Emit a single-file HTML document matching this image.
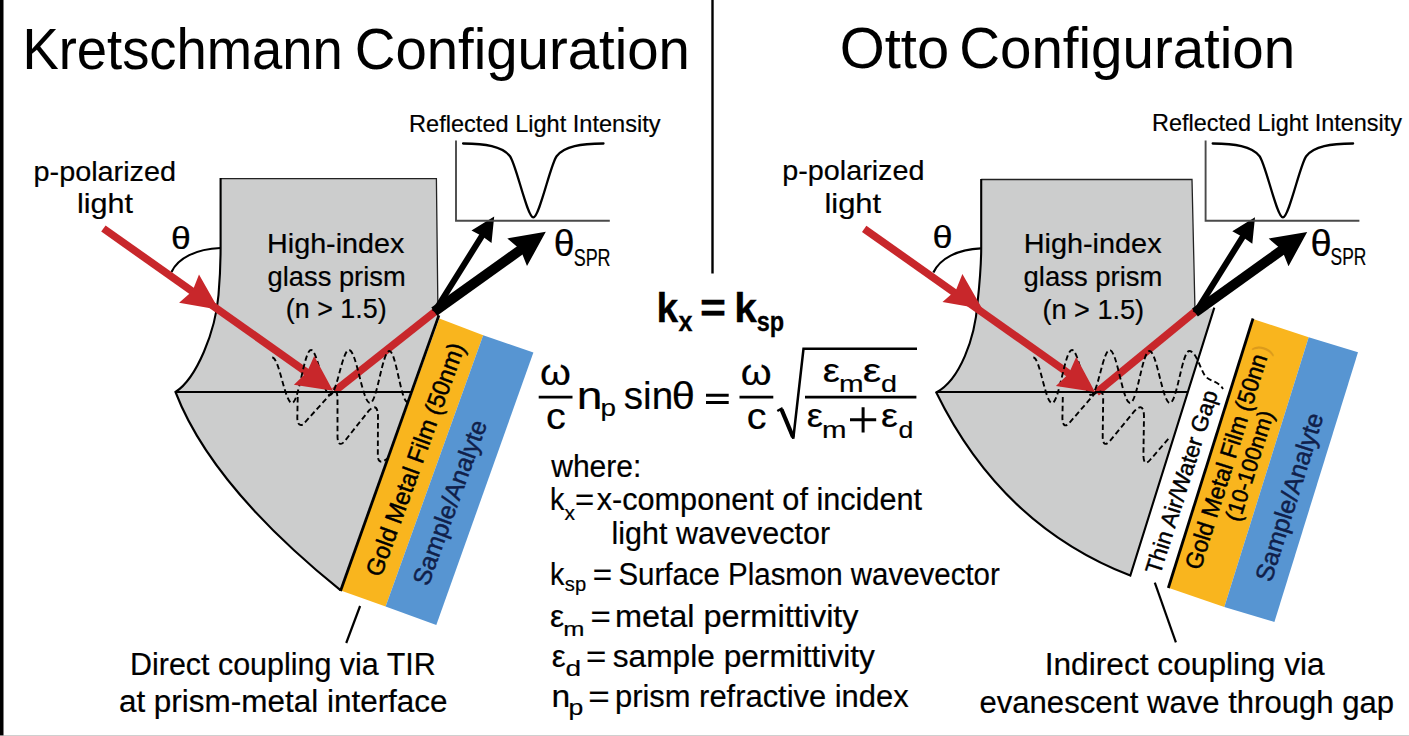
<!DOCTYPE html>
<html><head><meta charset="utf-8"><title>SPR configurations</title>
<style>html,body{margin:0;padding:0;background:#fff}svg{display:block}text{font-family:"Liberation Sans",sans-serif}</style>
</head><body>
<svg width="1409" height="736" viewBox="0 0 1409 736">
<rect width="1409" height="736" fill="#fff"/>
<rect x="0" y="0" width="3.5" height="736" fill="#000"/>
<rect x="0" y="735.3" width="1409" height="0.7" fill="#bbb"/>
<line x1="712.5" y1="0" x2="712.5" y2="273.5" stroke="#000" stroke-width="2.4"/>
<text x="22.4" y="68.5" font-size="57" font-weight="normal" fill="#000" stroke="#000" stroke-width="0.05" text-anchor="start" textLength="320.4" lengthAdjust="spacingAndGlyphs">Kretschmann</text>
<text x="354.7" y="68.6" font-size="57" font-weight="normal" fill="#000" stroke="#000" stroke-width="0.05" text-anchor="start" textLength="335.2" lengthAdjust="spacingAndGlyphs">Configuration</text>
<text x="839.7" y="68.2" font-size="57" font-weight="normal" fill="#000" stroke="#000" stroke-width="0.05" text-anchor="start" textLength="109.4" lengthAdjust="spacingAndGlyphs">Otto</text>
<text x="959.2" y="68.2" font-size="57" font-weight="normal" fill="#000" stroke="#000" stroke-width="0.05" text-anchor="start" textLength="336.0" lengthAdjust="spacingAndGlyphs">Configuration</text>
<path d="M220.6,178.6 L436.4,178.6 L438,316 L439,318 L340.7,590.4 Q211.5,486 175.5,392 C197,378 215.5,331 218.5,295 C220.2,275 220.6,260 220.6,248 Z" fill="#cccdcd" stroke="none"/>
<path d="M220.6,178.6 L436.4,178.6 L438,318" fill="none" stroke="#222" stroke-width="1.3"/>
<path d="M340.7,590.4 Q211.5,486 175.5,392 C197,378 215.5,331 218.5,295 C220.2,275 220.6,260 220.6,248 L220.6,178" fill="none" stroke="#000" stroke-width="2.1" stroke-linejoin="miter"/>
<polygon points="439.4,318.4 483.2,335.2 385.6,606.6 340.7,590.4" fill="#f9b51e"/>
<polygon points="483.2,335.2 533.4,352.6 436.3,625 385.6,606.6" fill="#5795d2"/>
<line x1="438.9" y1="315.4" x2="340.5" y2="591" stroke="#000" stroke-width="2.8"/>
<path d="M220.5,248 C196,249 178,258 171.5,272" fill="none" stroke="#000" stroke-width="2.2"/>
<line x1="103.4" y1="228.5" x2="316.7" y2="379.3" stroke="#c8272b" stroke-width="7.6"/>
<line x1="334.5" y1="391.3" x2="436.5" y2="310.5" stroke="#c8272b" stroke-width="7.6"/>
<path d="M272.2,357.5 C279.4,357.5 284.8,403.0 292.0,403.0 C298.9,403.0 304.1,350.0 311.0,350.0 C317.9,350.0 323.1,395.0 330.0,395.0 C336.9,395.0 342.1,350.0 349.0,350.0 C356.6,350.0 362.4,403.0 370.0,403.0 C377.1,403.0 382.3,351.0 389.4,351.0 C396.0,351.0 400.9,402.0 407.5,402.0" fill="none" stroke="#000" stroke-width="1.9" stroke-dasharray="5.5 3.2"/>
<path d="M297.7,397 L297.3,418 Q297.6,427 303,424.5 L331,393.5 Q337.3,388 337.5,398 L337.5,437 Q338,447.5 344,442 L369,410.5 Q377.5,402 378,416 L377.8,456 Q378.5,466 387.4,458.4" fill="none" stroke="#000" stroke-width="1.9" stroke-dasharray="5.5 3.2"/>
<line x1="175.5" y1="392" x2="412" y2="392" stroke="#000" stroke-width="2.1"/>
<polygon points="219.0,309.8 179.1,302.7 192.5,291.0 199.0,274.6" fill="#c8272b"/>
<polygon points="333.0,390.8 293.9,384.7 306.9,372.3 314.2,355.9" fill="#c8272b"/>
<line x1="434.5" y1="311.8" x2="486.2" y2="229.1" stroke="#000" stroke-width="6.1"/>
<polygon points="494.2,216.4 491.5,243.0 481.9,236.1 471.5,230.5" fill="#000"/>
<line x1="434.2" y1="311.6" x2="533.6" y2="240.5" stroke="#000" stroke-width="9.9"/>
<polygon points="545.8,231.8 527.0,266.1 520.6,249.8 507.3,238.4" fill="#000"/>
<path d="M456.0,140.4 V220.8 H609.8" fill="none" stroke="#4a4a4a" stroke-width="1.9"/>
<path d="M463.1,143.5 C485.0,143.8 502.0,146 510.0,156.2 C516.0,163.9 527.3,217.4 533.3,217.4 C539.3,217.4 550.6,163.9 556.6,156.2 C564.6,146 581.0,143.8 603.5,143.5" fill="none" stroke="#000" stroke-width="2.3" stroke-linecap="round"/>
<path d="M981.2,179.5 L1192,179.5 L1194.5,309.4 L1214,308.6 L1130.3,575.4 Q1001.5,525.7 936.3,392.5 C960,380 975,338 977.5,303 C980,280 981.2,262 981.2,248 Z" fill="#cccdcd" stroke="none"/>
<path d="M981.2,179.5 L1192,179.5 L1195,311" fill="none" stroke="#222" stroke-width="1.3"/>
<path d="M1214.3,307.6 L1130.3,575.6 Q1001.5,525.7 936.3,392.5 C960,380 975,338 977.5,303 C980,280 981.2,262 981.2,248 L981.2,179" fill="none" stroke="#000" stroke-width="2.1" stroke-linejoin="miter"/>
<polygon points="1253,319 1308.7,337.3 1224.3,607.1 1168.3,587.8" fill="#f9b51e"/>
<polygon points="1308.7,337.3 1358,352.3 1274.4,621.9 1224.3,607.1" fill="#5795d2"/>
<line x1="1253" y1="318.5" x2="1168.3" y2="588" stroke="#000" stroke-width="2.8"/>
<path d="M981,248.4 C957,249.5 940,258.5 933.4,272.5" fill="none" stroke="#000" stroke-width="2.2"/>
<line x1="864.2" y1="228.8" x2="1078.7" y2="380.5" stroke="#c8272b" stroke-width="7.6"/>
<line x1="1096.5" y1="392.5" x2="1197" y2="310" stroke="#c8272b" stroke-width="7.6"/>
<path d="M1033.3,357.5 C1040.1,357.5 1045.2,403.0 1052.0,403.0 C1059.3,403.0 1064.7,350.0 1072.0,350.0 C1078.9,350.0 1084.1,395.0 1091.0,395.0 C1097.8,395.0 1102.9,350.0 1109.7,350.0 C1117.1,350.0 1122.7,403.0 1130.1,403.0 C1137.2,403.0 1142.4,351.0 1149.5,351.0 C1156.9,351.0 1162.5,403.0 1169.9,403.0 C1176.9,403.0 1182.2,351.0 1189.2,351.0 C1196,351 1200,368 1204.5,375 S1218,380 1223,389" fill="none" stroke="#000" stroke-width="1.9" stroke-dasharray="5.5 3.2"/>
<path d="M1062.8,397 L1062.4,418 Q1062.6,428 1068,424.5 L1094,394.5 Q1103,387 1103.2,398 L1102.7,437 Q1103,447.5 1109,442 L1135,410.5 Q1143.5,402 1144,416 L1143.4,456 Q1144,467 1150,460 L1170,437" fill="none" stroke="#000" stroke-width="1.9" stroke-dasharray="5.5 3.2"/>
<line x1="936.3" y1="392" x2="1187.5" y2="392" stroke="#000" stroke-width="2.1"/>
<polygon points="982.4,309.1 942.5,302.0 955.9,290.3 962.4,273.9" fill="#c8272b"/>
<polygon points="1095.0,392.0 1055.9,385.9 1068.9,373.5 1076.2,357.1" fill="#c8272b"/>
<line x1="1195.3" y1="312.8" x2="1247.1" y2="229.9" stroke="#000" stroke-width="6.1"/>
<polygon points="1255.0,217.2 1252.3,243.8 1242.7,236.9 1232.3,231.3" fill="#000"/>
<line x1="1195.0" y1="312.6" x2="1295.0" y2="240.7" stroke="#000" stroke-width="9.9"/>
<polygon points="1307.2,231.9 1288.5,266.3 1282.0,250.0 1268.7,238.6" fill="#000"/>
<path d="M1205.6,140.4 V220.8 H1359.4" fill="none" stroke="#4a4a4a" stroke-width="1.9"/>
<path d="M1212.7,143.5 C1234.6,143.8 1251.6,146 1259.6,156.2 C1265.6,163.9 1276.9,217.4 1282.9,217.4 C1288.9,217.4 1300.2,163.9 1306.2,156.2 C1314.2,146 1330.6,143.8 1353.1,143.5" fill="none" stroke="#000" stroke-width="2.3" stroke-linecap="round"/>
<text x="409.1" y="131.8" font-size="24" font-weight="normal" fill="#000" stroke="#000" stroke-width="0.2" text-anchor="start" textLength="251.4" lengthAdjust="spacingAndGlyphs">Reflected Light Intensity</text>
<text x="33.5" y="181.0" font-size="28.5" font-weight="normal" fill="#000" stroke="#000" stroke-width="0.2" text-anchor="start" textLength="142.6" lengthAdjust="spacingAndGlyphs">p-polarized</text>
<text x="76.9" y="213.3" font-size="28.5" font-weight="normal" fill="#000" stroke="#000" stroke-width="0.2" text-anchor="start" textLength="56.1" lengthAdjust="spacingAndGlyphs">light</text>
<text x="171.0" y="248.8" font-size="31.5" font-weight="normal" fill="#000" stroke="#000" stroke-width="0.2" text-anchor="start" textLength="19.8" lengthAdjust="spacingAndGlyphs">θ</text>
<text x="267.1" y="252.9" font-size="28.3" font-weight="normal" fill="#000" stroke="#000" stroke-width="0.2" text-anchor="start" textLength="137.2" lengthAdjust="spacingAndGlyphs">High-index</text>
<text x="267.6" y="285.5" font-size="28.3" font-weight="normal" fill="#000" stroke="#000" stroke-width="0.2" text-anchor="start" textLength="138.1" lengthAdjust="spacingAndGlyphs">glass prism</text>
<text x="285.8" y="317.9" font-size="28.3" font-weight="normal" fill="#000" stroke="#000" stroke-width="0.2" text-anchor="start" textLength="100.9" lengthAdjust="spacingAndGlyphs">(n &gt; 1.5)</text>
<text x="553.8" y="255.8" font-size="36.5" font-weight="normal" fill="#000" stroke="#000" stroke-width="0.2" text-anchor="start" textLength="20.8" lengthAdjust="spacingAndGlyphs">θ</text>
<text x="573.7" y="265.6" font-size="24" font-weight="normal" fill="#000" stroke="#000" stroke-width="0.2" text-anchor="start" textLength="36.9" lengthAdjust="spacingAndGlyphs">SPR</text>
<text x="130.0" y="674.7" font-size="31" font-weight="normal" fill="#000" stroke="#000" stroke-width="0.2" text-anchor="start" textLength="305.7" lengthAdjust="spacingAndGlyphs">Direct coupling via TIR</text>
<text x="118.9" y="711.9" font-size="31" font-weight="normal" fill="#000" stroke="#000" stroke-width="0.2" text-anchor="start" textLength="328.7" lengthAdjust="spacingAndGlyphs">at prism-metal interface</text>
<line x1="360.1" y1="606" x2="346.2" y2="643" stroke="#000" stroke-width="2.2"/>
<g transform="translate(381.5,577) rotate(-70.05)"><text x="-1.2" y="0.0" font-size="24.5" font-weight="normal" fill="#000" stroke="#000" stroke-width="0.45" text-anchor="start" textLength="246.4" lengthAdjust="spacingAndGlyphs">Gold Metal Film (50nm)</text></g>
<g transform="translate(428.5,586) rotate(-70.05)"><text x="-1.0" y="0.0" font-size="25" font-weight="normal" fill="#10204a" stroke="#10204a" stroke-width="0.45" text-anchor="start" textLength="173.6" lengthAdjust="spacingAndGlyphs">Sample/Analyte</text></g>
<text x="1152.1" y="131.3" font-size="24" font-weight="normal" fill="#000" stroke="#000" stroke-width="0.2" text-anchor="start" textLength="249.8" lengthAdjust="spacingAndGlyphs">Reflected Light Intensity</text>
<text x="782.2" y="180.4" font-size="28.5" font-weight="normal" fill="#000" stroke="#000" stroke-width="0.2" text-anchor="start" textLength="142.3" lengthAdjust="spacingAndGlyphs">p-polarized</text>
<text x="824.4" y="213.4" font-size="28.5" font-weight="normal" fill="#000" stroke="#000" stroke-width="0.2" text-anchor="start" textLength="56.8" lengthAdjust="spacingAndGlyphs">light</text>
<text x="932.6" y="247.8" font-size="31.5" font-weight="normal" fill="#000" stroke="#000" stroke-width="0.2" text-anchor="start" textLength="20.1" lengthAdjust="spacingAndGlyphs">θ</text>
<text x="1023.7" y="253.2" font-size="28.3" font-weight="normal" fill="#000" stroke="#000" stroke-width="0.2" text-anchor="start" textLength="137.9" lengthAdjust="spacingAndGlyphs">High-index</text>
<text x="1023.6" y="285.5" font-size="28.3" font-weight="normal" fill="#000" stroke="#000" stroke-width="0.2" text-anchor="start" textLength="138.7" lengthAdjust="spacingAndGlyphs">glass prism</text>
<text x="1042.4" y="318.5" font-size="28.3" font-weight="normal" fill="#000" stroke="#000" stroke-width="0.2" text-anchor="start" textLength="101.7" lengthAdjust="spacingAndGlyphs">(n &gt; 1.5)</text>
<text x="1310.6" y="256.2" font-size="36.5" font-weight="normal" fill="#000" stroke="#000" stroke-width="0.2" text-anchor="start" textLength="21.2" lengthAdjust="spacingAndGlyphs">θ</text>
<text x="1330.6" y="265.2" font-size="24" font-weight="normal" fill="#000" stroke="#000" stroke-width="0.2" text-anchor="start" textLength="35.7" lengthAdjust="spacingAndGlyphs">SPR</text>
<text x="1044.7" y="674.6" font-size="31" font-weight="normal" fill="#000" stroke="#000" stroke-width="0.2" text-anchor="start" textLength="280.0" lengthAdjust="spacingAndGlyphs">Indirect coupling via</text>
<text x="979.5" y="712.9" font-size="31" font-weight="normal" fill="#000" stroke="#000" stroke-width="0.2" text-anchor="start" textLength="414.5" lengthAdjust="spacingAndGlyphs">evanescent wave through gap</text>
<line x1="1154.8" y1="582.7" x2="1175.9" y2="642.3" stroke="#000" stroke-width="2.2"/>
<g transform="translate(1160,575.2) rotate(-72.3)"><text x="-0.4" y="0.0" font-size="23" font-weight="normal" fill="#000" stroke="#000" stroke-width="0.45" text-anchor="start" textLength="191.3" lengthAdjust="spacingAndGlyphs">Thin Air/Water Gap</text></g>
<g transform="translate(1200.5,570) rotate(-72.5)"><text x="-1.1" y="0.0" font-size="24" font-weight="normal" fill="#000" stroke="#000" stroke-width="0.45" text-anchor="start" textLength="224.4" lengthAdjust="spacingAndGlyphs">Gold Metal Film (50nn</text><text x="225" y="0" font-size="24" fill="#c98a1a" opacity="0.6">)</text></g>
<g transform="translate(1240,521.5) rotate(-72.5)"><text x="-1.3" y="0.0" font-size="22.5" font-weight="normal" fill="#000" stroke="#000" stroke-width="0.45" text-anchor="start" textLength="114.5" lengthAdjust="spacingAndGlyphs">(10-100nm)</text></g>
<g transform="translate(1271.5,582) rotate(-72.5)"><text x="-1.0" y="0.0" font-size="25" font-weight="normal" fill="#10204a" stroke="#10204a" stroke-width="0.45" text-anchor="start" textLength="174.9" lengthAdjust="spacingAndGlyphs">Sample/Analyte</text></g>
<text x="656.6" y="321.8" font-size="41" font-weight="bold" fill="#000" stroke="#000" stroke-width="0.3" text-anchor="start" textLength="21.7" lengthAdjust="spacingAndGlyphs">k</text>
<text x="678.6" y="331.1" font-size="28" font-weight="bold" fill="#000" stroke="#000" stroke-width="0.3" text-anchor="start" textLength="14.0" lengthAdjust="spacingAndGlyphs">x</text>
<text x="699.9" y="321.5" font-size="41" font-weight="bold" fill="#000" stroke="#000" stroke-width="0.3" text-anchor="start" textLength="26.0" lengthAdjust="spacingAndGlyphs">=</text>
<text x="734.2" y="321.8" font-size="41" font-weight="bold" fill="#000" stroke="#000" stroke-width="0.3" text-anchor="start" textLength="22.7" lengthAdjust="spacingAndGlyphs">k</text>
<text x="756.7" y="331.1" font-size="27" font-weight="bold" fill="#000" stroke="#000" stroke-width="0.3" text-anchor="start" textLength="27.4" lengthAdjust="spacingAndGlyphs">sp</text>
<text x="540.0" y="384.9" font-size="36.5" font-weight="normal" fill="#000" stroke="#000" stroke-width="0.2" text-anchor="start" textLength="30.9" lengthAdjust="spacingAndGlyphs">ω</text>
<line x1="538.7" y1="397.1" x2="572.5" y2="397.1" stroke="#000" stroke-width="2.6"/>
<text x="545.9" y="428.5" font-size="37.5" font-weight="normal" fill="#000" stroke="#000" stroke-width="0.2" text-anchor="start" textLength="19.8" lengthAdjust="spacingAndGlyphs">c</text>
<text x="576.7" y="409.1" font-size="39.5" font-weight="normal" fill="#000" stroke="#000" stroke-width="0.2" text-anchor="start" textLength="25.7" lengthAdjust="spacingAndGlyphs">n</text>
<text x="600.5" y="415.6" font-size="24" font-weight="normal" fill="#000" stroke="#000" stroke-width="0.2" text-anchor="start" textLength="15.5" lengthAdjust="spacingAndGlyphs">p</text>
<text x="623.8" y="409.1" font-size="39.5" font-weight="normal" fill="#000" stroke="#000" stroke-width="0.2" text-anchor="start" textLength="49.3" lengthAdjust="spacingAndGlyphs">sin</text>
<text x="671.7" y="409.1" font-size="38" font-weight="normal" fill="#000" stroke="#000" stroke-width="0.2" text-anchor="start" textLength="23.1" lengthAdjust="spacingAndGlyphs">θ</text>
<path d="M706,395.2 H728.7 M706,402.6 H728.7" stroke="#000" stroke-width="3" fill="none"/>
<text x="740.8" y="384.9" font-size="36.5" font-weight="normal" fill="#000" stroke="#000" stroke-width="0.2" text-anchor="start" textLength="30.9" lengthAdjust="spacingAndGlyphs">ω</text>
<line x1="739.5" y1="397.1" x2="773.3" y2="397.1" stroke="#000" stroke-width="2.6"/>
<text x="746.7" y="428.5" font-size="37.5" font-weight="normal" fill="#000" stroke="#000" stroke-width="0.2" text-anchor="start" textLength="19.8" lengthAdjust="spacingAndGlyphs">c</text>
<path d="M777.3,411 L781.5,408.7 L793.3,438.5 L803.5,348.8 L917,348.8" fill="none" stroke="#000" stroke-width="2.5" stroke-linejoin="miter"/>
<path d="M781.5,409.5 L793,437" fill="none" stroke="#000" stroke-width="4.2"/>
<line x1="805" y1="397.1" x2="916.4" y2="397.1" stroke="#000" stroke-width="2.6"/>
<text x="822.7" y="382.0" font-size="33.5" font-weight="normal" fill="#000" stroke="#000" stroke-width="0.2" text-anchor="start" textLength="17.2" lengthAdjust="spacingAndGlyphs">ε</text>
<text x="838.9" y="391.6" font-size="23" font-weight="normal" fill="#000" stroke="#000" stroke-width="0.2" text-anchor="start" textLength="24.6" lengthAdjust="spacingAndGlyphs">m</text>
<text x="862.8" y="382.0" font-size="33.5" font-weight="normal" fill="#000" stroke="#000" stroke-width="0.2" text-anchor="start" textLength="18.5" lengthAdjust="spacingAndGlyphs">ε</text>
<text x="880.9" y="391.6" font-size="24" font-weight="normal" fill="#000" stroke="#000" stroke-width="0.2" text-anchor="start" textLength="16.0" lengthAdjust="spacingAndGlyphs">d</text>
<text x="806.8" y="427.1" font-size="33.5" font-weight="normal" fill="#000" stroke="#000" stroke-width="0.2" text-anchor="start" textLength="16.2" lengthAdjust="spacingAndGlyphs">ε</text>
<text x="822.1" y="438.2" font-size="23" font-weight="normal" fill="#000" stroke="#000" stroke-width="0.2" text-anchor="start" textLength="24.5" lengthAdjust="spacingAndGlyphs">m</text>
<path d="M850,419.8 H876.2 M863.1,407.2 V432.4" stroke="#000" stroke-width="3" fill="none"/>
<text x="880.9" y="427.1" font-size="33.5" font-weight="normal" fill="#000" stroke="#000" stroke-width="0.2" text-anchor="start" textLength="16.9" lengthAdjust="spacingAndGlyphs">ε</text>
<text x="898.4" y="438.2" font-size="24" font-weight="normal" fill="#000" stroke="#000" stroke-width="0.2" text-anchor="start" textLength="14.8" lengthAdjust="spacingAndGlyphs">d</text>
<text x="551.2" y="476.6" font-size="31" font-weight="normal" fill="#000" stroke="#000" stroke-width="0.2" text-anchor="start" textLength="90.2" lengthAdjust="spacingAndGlyphs">where:</text>
<text x="549.9" y="509.7" font-size="31" font-weight="normal" fill="#000" stroke="#000" stroke-width="0.2" text-anchor="start" textLength="14.4" lengthAdjust="spacingAndGlyphs">k</text>
<text x="564.6" y="520.0" font-size="20" font-weight="normal" fill="#000" stroke="#000" stroke-width="0.2" text-anchor="start" textLength="10.5" lengthAdjust="spacingAndGlyphs">x</text>
<text x="575.1" y="509.7" font-size="31" font-weight="normal" fill="#000" stroke="#000" stroke-width="0.2" text-anchor="start" textLength="19.2" lengthAdjust="spacingAndGlyphs">=</text>
<text x="596.7" y="509.7" font-size="31" font-weight="normal" fill="#000" stroke="#000" stroke-width="0.2" text-anchor="start" textLength="325.4" lengthAdjust="spacingAndGlyphs">x-component of incident</text>
<text x="611.5" y="544.1" font-size="31" font-weight="normal" fill="#000" stroke="#000" stroke-width="0.2" text-anchor="start" textLength="218.6" lengthAdjust="spacingAndGlyphs">light wavevector</text>
<text x="549.9" y="584.6" font-size="31" font-weight="normal" fill="#000" stroke="#000" stroke-width="0.2" text-anchor="start" textLength="14.4" lengthAdjust="spacingAndGlyphs">k</text>
<text x="564.8" y="591.3" font-size="20" font-weight="normal" fill="#000" stroke="#000" stroke-width="0.2" text-anchor="start" textLength="21.3" lengthAdjust="spacingAndGlyphs">sp</text>
<text x="592.7" y="584.6" font-size="31" font-weight="normal" fill="#000" stroke="#000" stroke-width="0.2" text-anchor="start" textLength="19.4" lengthAdjust="spacingAndGlyphs">=</text>
<text x="618.4" y="584.6" font-size="31" font-weight="normal" fill="#000" stroke="#000" stroke-width="0.2" text-anchor="start" textLength="381.4" lengthAdjust="spacingAndGlyphs">Surface Plasmon wavevector</text>
<text x="549.9" y="626.9" font-size="31" font-weight="normal" fill="#000" stroke="#000" stroke-width="0.2" text-anchor="start" textLength="14.2" lengthAdjust="spacingAndGlyphs">ε</text>
<text x="563.3" y="635.6" font-size="20" font-weight="normal" fill="#000" stroke="#000" stroke-width="0.2" text-anchor="start" textLength="21.2" lengthAdjust="spacingAndGlyphs">m</text>
<text x="590.5" y="626.9" font-size="31" font-weight="normal" fill="#000" stroke="#000" stroke-width="0.2" text-anchor="start" textLength="20.3" lengthAdjust="spacingAndGlyphs">=</text>
<text x="615.0" y="626.9" font-size="31" font-weight="normal" fill="#000" stroke="#000" stroke-width="0.2" text-anchor="start" textLength="243.6" lengthAdjust="spacingAndGlyphs">metal permittivity</text>
<text x="551.7" y="666.9" font-size="31" font-weight="normal" fill="#000" stroke="#000" stroke-width="0.2" text-anchor="start" textLength="14.0" lengthAdjust="spacingAndGlyphs">ε</text>
<text x="565.4" y="675.6" font-size="22" font-weight="normal" fill="#000" stroke="#000" stroke-width="0.2" text-anchor="start" textLength="15.6" lengthAdjust="spacingAndGlyphs">d</text>
<text x="586.0" y="666.9" font-size="31" font-weight="normal" fill="#000" stroke="#000" stroke-width="0.2" text-anchor="start" textLength="20.3" lengthAdjust="spacingAndGlyphs">=</text>
<text x="612.8" y="666.9" font-size="31" font-weight="normal" fill="#000" stroke="#000" stroke-width="0.2" text-anchor="start" textLength="262.1" lengthAdjust="spacingAndGlyphs">sample permittivity</text>
<text x="551.6" y="706.9" font-size="31" font-weight="normal" fill="#000" stroke="#000" stroke-width="0.2" text-anchor="start" textLength="18.7" lengthAdjust="spacingAndGlyphs">n</text>
<text x="568.4" y="714.8" font-size="22" font-weight="normal" fill="#000" stroke="#000" stroke-width="0.2" text-anchor="start" textLength="14.8" lengthAdjust="spacingAndGlyphs">p</text>
<text x="588.3" y="706.9" font-size="31" font-weight="normal" fill="#000" stroke="#000" stroke-width="0.2" text-anchor="start" textLength="21.5" lengthAdjust="spacingAndGlyphs">=</text>
<text x="615.0" y="706.9" font-size="31" font-weight="normal" fill="#000" stroke="#000" stroke-width="0.2" text-anchor="start" textLength="293.6" lengthAdjust="spacingAndGlyphs">prism refractive index</text>
</svg>
</body></html>
